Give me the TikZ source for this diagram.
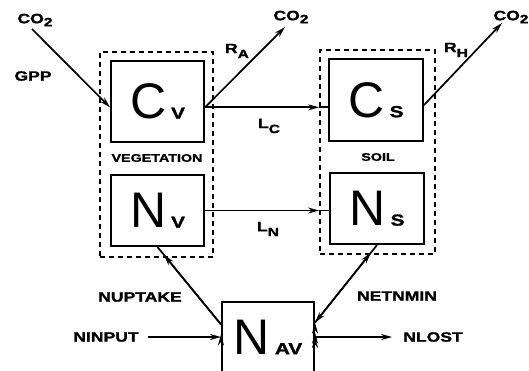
\documentclass[tikz,border=0pt]{standalone}
\usepackage{fontspec}
\setmainfont{Liberation Sans}
\newfontfamily\labfont[FakeStretch=1.3, FakeBold=1.5]{Liberation Sans Bold}
\usetikzlibrary{arrows.meta}

% big pool letter with its bold index
\newcommand{\pool}[2]{{\fontsize{50}{50}\selectfont #1}\hspace{5pt}{\labfont\fontsize{16}{16}\selectfont #2}}
% label letter with a lowered index
\newcommand{\lowidx}[3]{#1\raisebox{-#3}{\fontsize{12}{12}\selectfont #2}}

\begin{document}
\begin{tikzpicture}[x=1pt, y=-1pt,
  pool/.style={shape=rectangle, draw=black, line width=2pt, inner sep=0pt},
  group/.style={shape=rectangle, draw=black, line width=1.8pt, dash pattern=on 5pt off 4pt, inner sep=0pt},
  tag/.style={font=\labfont\fontsize{13.5}{13.5}\selectfont, inner sep=1pt},
  flow/.style={-{Stealth[length=11pt, width=6pt]}, line width=1.7pt},
  wire/.style={line width=1.7pt}]
\useasboundingbox (0,0) rectangle (529,370);

              % groups
\node[group, minimum width=113pt, minimum height=205pt] at (156.5, 154.5)
(veg) {};
\node[group, minimum width=115pt, minimum height=204pt] at (377.5, 152)
(soil) {};

              % pools
\node[pool, minimum width=93pt, minimum height=81pt] at (157.5, 101.5)
(Cv) {\pool{C}{V}};
\node[pool, minimum width=93pt, minimum height=71pt] at (157.5, 210.5)
(Nv) {\pool{N}{V}};
\node[pool, minimum width=94pt, minimum height=82pt] at (376, 100)
(Cs) {\pool{C}{S}};
\node[pool, minimum width=94pt, minimum height=71pt] at (377, 208.5)
(Ns) {\pool{N}{S}};
\node[pool, minimum width=92pt, minimum height=70pt] at (268, 337)
(Nav) {\pool{N}{AV}};

              % texts
\node[tag, font=\labfont\fontsize{11}{11}\selectfont] at (157, 158) (vegtxt) {VEGETATION};
\node[tag, font=\labfont\fontsize{11}{11}\selectfont] at (378, 157) (soiltxt) {SOIL};
\node[tag] at (35, 20)  (co2a) {\lowidx{CO}{2}{3pt}};
\node[tag] at (291, 17) (co2b) {\lowidx{CO}{2}{3pt}};
\node[tag] at (511, 17) (co2c) {\lowidx{CO}{2}{3pt}};
\node[tag] at (33, 76)   (gpp) {GPP};
\node[tag] at (237, 51)  (ra) {\lowidx{R}{A}{5pt}};
\node[tag] at (456, 50)  (rh) {\lowidx{R}{H}{5pt}};
\node[tag] at (269, 126) (lc) {\lowidx{L}{C}{5pt}};
\node[tag] at (268, 229) (ln) {\lowidx{L}{N}{5pt}};
\node[tag] at (140, 297) (nup) {NUPTAKE};
\node[tag] at (106, 337) (nin) {NINPUT};
\node[tag] at (397, 296) (netn) {NETNMIN};
\node[tag] at (433, 337) (nlost) {NLOST};

\coordinate (gppin) at (32, 29);
\coordinate (raout) at (285, 27);
\coordinate (rhout) at (502, 23);

\draw[flow]
  (gppin) edge (Cv.187)
  (Cv.353) edge (raout)
  (Cs.354) edge (rhout)
  (Cv.353) edge (Cv.353 -| soil.west)
  (Nv.east) edge (Nv.east -| soil.west)
  (nin.east) edge[shorten <=8pt] (Nav.west)
  (Nav.east) edge[shorten >=10pt] (nlost.west)
;
\draw[wire]
  (Cv.353 -| soil.west) edge (Cv.353 -| Cs.west)
  (Nv.east -| soil.west) edge (Nv.east -| Ns.west)
  (Nav.165) edge (Nv.south)
  (Nav.17) edge (Ns.south)
;
\draw[flow, shorten >=10pt]
  (Nav.165) edge (Nv.south)
;
\draw[flow, {Stealth[length=11pt, width=6pt]}-{Stealth[length=11pt, width=6pt]}, shorten >=10pt]
  (Nav.17) edge (Ns.south)
;
\end{tikzpicture}
\end{document}
